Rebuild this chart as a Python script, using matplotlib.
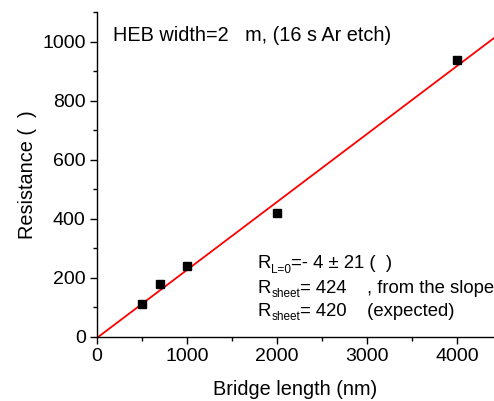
import numpy as np
import matplotlib
matplotlib.use("Agg")
from matplotlib import pyplot as plt
from matplotlib.ticker import MultipleLocator
from matplotlib.transforms import IdentityTransform

plt.rcParams['font.family'] = ['Liberation Sans', 'DejaVu Sans']

# measured resistance vs bridge length
lengths = [500, 700, 1000, 2000, 4000]
resistance = [112, 179, 240, 418, 937]

# linear fit shown in red
fit_intercept = -4
fit_slope = 0.2303
fit_x = np.array([0, 4500])

FS = 14.3

fig = plt.figure(figsize=(4.94, 4.01), dpi=100)
ax = fig.add_axes([0.196, 0.160, 0.804, 0.810])

ax.plot(fit_x, fit_intercept + fit_slope * fit_x, color="red", linewidth=1.3, zorder=2)
ax.plot(lengths, resistance, linestyle="none", marker="s", markersize=5.2,
        color="black", zorder=3)

ax.set_xlim(0, 4411)
ax.set_ylim(0, 1100)
ax.xaxis.set_major_locator(MultipleLocator(1000))
ax.xaxis.set_minor_locator(MultipleLocator(500))
ax.yaxis.set_major_locator(MultipleLocator(200))
ax.yaxis.set_minor_locator(MultipleLocator(100))
ax.tick_params(which="major", direction="out", length=5, width=1, labelsize=14, pad=3)
ax.tick_params(which="minor", direction="out", length=3, width=1)
for s in ["top", "right"]:
    ax.spines[s].set_visible(False)
for s in ["left", "bottom"]:
    ax.spines[s].set_linewidth(1)

ax.set_xlabel("Bridge length (nm)", fontsize=FS, labelpad=11)
ax.set_ylabel("Resistance (  )", fontsize=FS, labelpad=4)

ax.text(178, 1002, "HEB width=2   m, (16 s Ar etch)", fontsize=FS, va="baseline")


def chained(x, y, parts):
    # parts: (text, size, shift in px below baseline); placed one after another
    fig.canvas.draw()
    r = fig.canvas.get_renderer()
    px, py = ax.transData.transform((x, y))
    for txt, size, dy in parts:
        t = ax.text(px, py - dy, txt, fontsize=size, va="baseline",
                    transform=IdentityTransform())
        px = t.get_window_extent(r).x1


main = 13.3
sub = 8.5
chained(1789, 233, [("R", main, 0), ("L=0", sub, 4.5), ("=- 4 ± 21 (  )", main, 0)])
chained(1789, 149, [("R", main, 0), ("sheet", sub, 4.5), ("= 424    , from the slope", main, 0)])
chained(1789, 71, [("R", main, 0), ("sheet", sub, 4.5), ("= 420    (expected)", main, 0)])

fig.savefig("out.png", dpi=100)
